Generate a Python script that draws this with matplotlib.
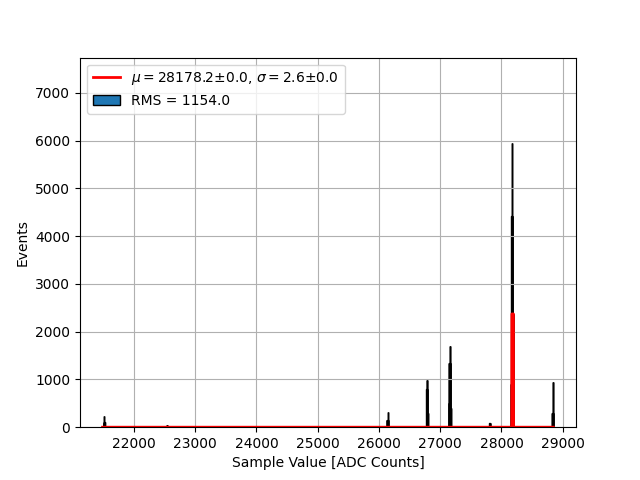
import numpy as np
import matplotlib
matplotlib.use('Agg')
import matplotlib.pyplot as plt

# histogram contents as runs of ADC values with the same number of events
seg_start = [21504, 21512, 21515, 22532,
             26132, 26140, 26143,
             26776, 26786, 26791,
             27140, 27148, 27163, 27167,
             27805,
             28158, 28164, 28177, 28180, 28191,
             28830, 28838, 28842]
seg_stop = [21511, 21514, 21520, 22537,
            26139, 26142, 26148,
            26785, 26790, 26795,
            27147, 27162, 27166, 27170,
            27811,
            28163, 28176, 28179, 28190, 28196,
            28837, 28841, 28845]
seg_events = [80, 230, 100, 55,
              150, 320, 150,
              800, 980, 300,
              500, 1350, 1700, 400,
              80,
              900, 4430, 5950, 2370, 600,
              300, 950, 300]

# gaussian fit curve as drawn
fit_x = [21487, 28168, 28170, 28196, 28198, 28849]
fit_y = [0, 0, 2370, 2370, 0, 0]
mu, mu_err = 28178.2, 0.0
sigma, sigma_err = 2.6, 0.0
rms = 1154.0

adc_values = []
events = []
for s, e, n in zip(seg_start, seg_stop, seg_events):
    for v in range(s, e + 1):
        adc_values.append(v)
        events.append(n)

bins = np.arange(min(adc_values), max(adc_values) + 2) - 0.5

fig, ax = plt.subplots(figsize=(6.4, 4.8), dpi=100)
_, _, patches = ax.hist(adc_values, bins=bins, weights=events, edgecolor='black',
                        label='RMS = %.1f' % rms)
line, = ax.plot(fit_x, fit_y, color='red', lw=2,
                label=r'$\mu=%.1f$$\pm$%.1f, $\sigma=%.1f$$\pm$%.1f' % (mu, mu_err, sigma, sigma_err))

ax.set_ylim(0, 1.3 * max(events))
ax.set_xlabel('Sample Value [ADC Counts]')
ax.set_ylabel('Events')
ax.grid(True)
ax.legend(handles=[line, patches[0]], loc='upper left')

plt.savefig('out.png')
